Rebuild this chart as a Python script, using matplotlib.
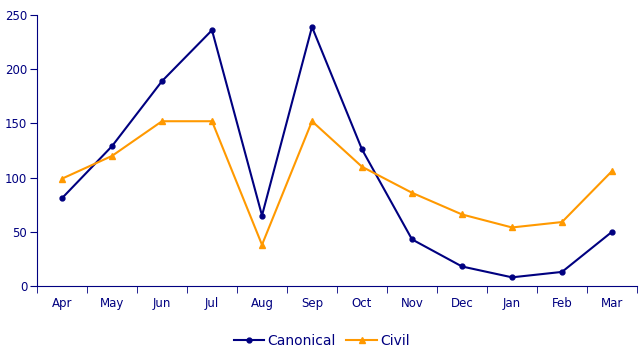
import matplotlib.pyplot as plt
import numpy as np

# data
months = ['Apr', 'May', 'Jun', 'Jul', 'Aug', 'Sep', 'Oct', 'Nov', 'Dec', 'Jan', 'Feb', 'Mar']
canonical = [81, 129, 189, 236, 65, 239, 126, 43, 18, 8, 13, 50]
civil = [99, 120, 152, 152, 38, 152, 110, 86, 66, 54, 59, 106]

navy = '#000080'
orange = '#FF9900'

fig = plt.figure(figsize=(6.43, 3.64), dpi=100)
ax = fig.add_axes([37/643, 1 - 286/364, 600/643, 271/364])

x = np.arange(len(months))
ax.plot(x, canonical, color=navy, lw=1.5, marker='o', markersize=3.5, label='Canonical')
ax.plot(x, civil, color=orange, lw=1.5, marker='^', markersize=4.5, label='Civil')

ax.set_xlim(-0.5, len(months) - 0.5)
ax.set_ylim(0, 250)
ax.set_yticks(range(0, 251, 50))

# month labels in the middle, ticks between months
ax.set_xticks(x)
ax.set_xticklabels(months)
ax.set_xticks(np.arange(-0.5, len(months), 1), minor=True)
ax.tick_params(axis='x', which='major', length=0, pad=8)
ax.tick_params(axis='x', which='minor', length=5, direction='out', color=navy)
ax.tick_params(axis='y', length=5, direction='out', color=navy, pad=2)
ax.tick_params(labelcolor=navy, labelsize=8.5)

for side in ['top', 'right']:
    ax.spines[side].set_visible(False)
for side in ['left', 'bottom']:
    ax.spines[side].set_color(navy)

leg = fig.legend(loc='lower center', bbox_to_anchor=(0.5, 0.01), ncol=2, frameon=False,
                 fontsize=10, handlelength=2.2, handletextpad=0.2, columnspacing=0.8)
for t in leg.get_texts():
    t.set_color(navy)

fig.savefig('out.png', dpi=100)
